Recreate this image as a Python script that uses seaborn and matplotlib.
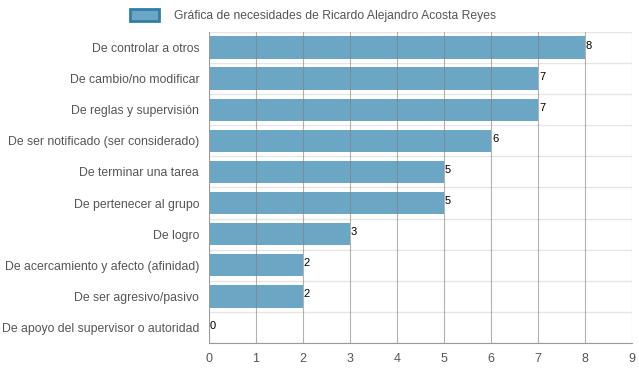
import numpy as np
import pandas as pd
import matplotlib
matplotlib.use("Agg")
import matplotlib.pyplot as plt
import seaborn as sns
from matplotlib.patches import Patch

# Data
categories = [
    "De controlar a otros",
    "De cambio/no modificar",
    "De reglas y supervisión",
    "De ser notificado (ser considerado)",
    "De terminar una tarea",
    "De pertenecer al grupo",
    "De logro",
    "De acercamiento y afecto (afinidad)",
    "De ser agresivo/pasivo",
    "De apoyo del supervisor o autoridad",
]
values = [8, 7, 7, 6, 5, 5, 3, 2, 2, 0]
series_name = "Gráfica de necesidades de Ricardo Alejandro Acosta Reyes"

df = pd.DataFrame({"categoria": categories, "valor": values})

sns.set_style("white")
plt.rcParams["font.family"] = ["Liberation Sans", "DejaVu Sans"]

BAR_COLOR = "#6ca6c5"
EDGE_COLOR = "#2f7ea8"

fig = plt.figure(figsize=(6.39, 3.72), dpi=100)
ax = fig.add_axes([0.327, 0.078, 0.662, 0.836])

sns.barplot(data=df, y="categoria", x="valor", orient="h", color=BAR_COLOR,
            saturation=1, width=0.72, ax=ax, zorder=2, linewidth=0)

ax.set_xlim(0, 9)
ax.set_ylim(len(categories) - 0.5, -0.5)
ax.set_xticks(range(0, 10))
ax.set_xlabel("")
ax.set_ylabel("")

# grid: vertical at ticks (drawn over the bars), horizontal between categories
for x in range(1, 10):
    ax.axvline(x, color="#808080", lw=0.8, alpha=0.6, zorder=3)
for y in np.arange(-0.5, len(categories), 1.0):
    ax.axhline(y, color="#e6e6e6", lw=1.0, zorder=0.4)
ax.axvline(0, color="#9a9a9a", lw=0.8, zorder=3)

for s in ["top", "right", "left"]:
    ax.spines[s].set_visible(False)
ax.spines["bottom"].set_color("#9a9a9a")
ax.spines["bottom"].set_linewidth(0.8)

ax.tick_params(axis="x", labelsize=9, length=4, color="#9a9a9a")
ax.tick_params(axis="y", labelsize=8.8, length=0, pad=7)
for lab in ax.get_xticklabels() + ax.get_yticklabels():
    lab.set_color("#555555")

# value labels
for i, v in enumerate(values):
    ax.text(v + 0.02, i - 0.06, str(v), ha="left", va="center",
            fontsize=8, color="black", zorder=4)

handle = Patch(facecolor=BAR_COLOR, edgecolor=EDGE_COLOR, linewidth=2)
fig.legend([handle], [series_name], loc="upper center", bbox_to_anchor=(0.49, 1.005),
           frameon=False, fontsize=8.7, handlelength=2.4, handleheight=1.1,
           handletextpad=1.2, labelcolor="#555555")

fig.savefig("out.png", dpi=100)
